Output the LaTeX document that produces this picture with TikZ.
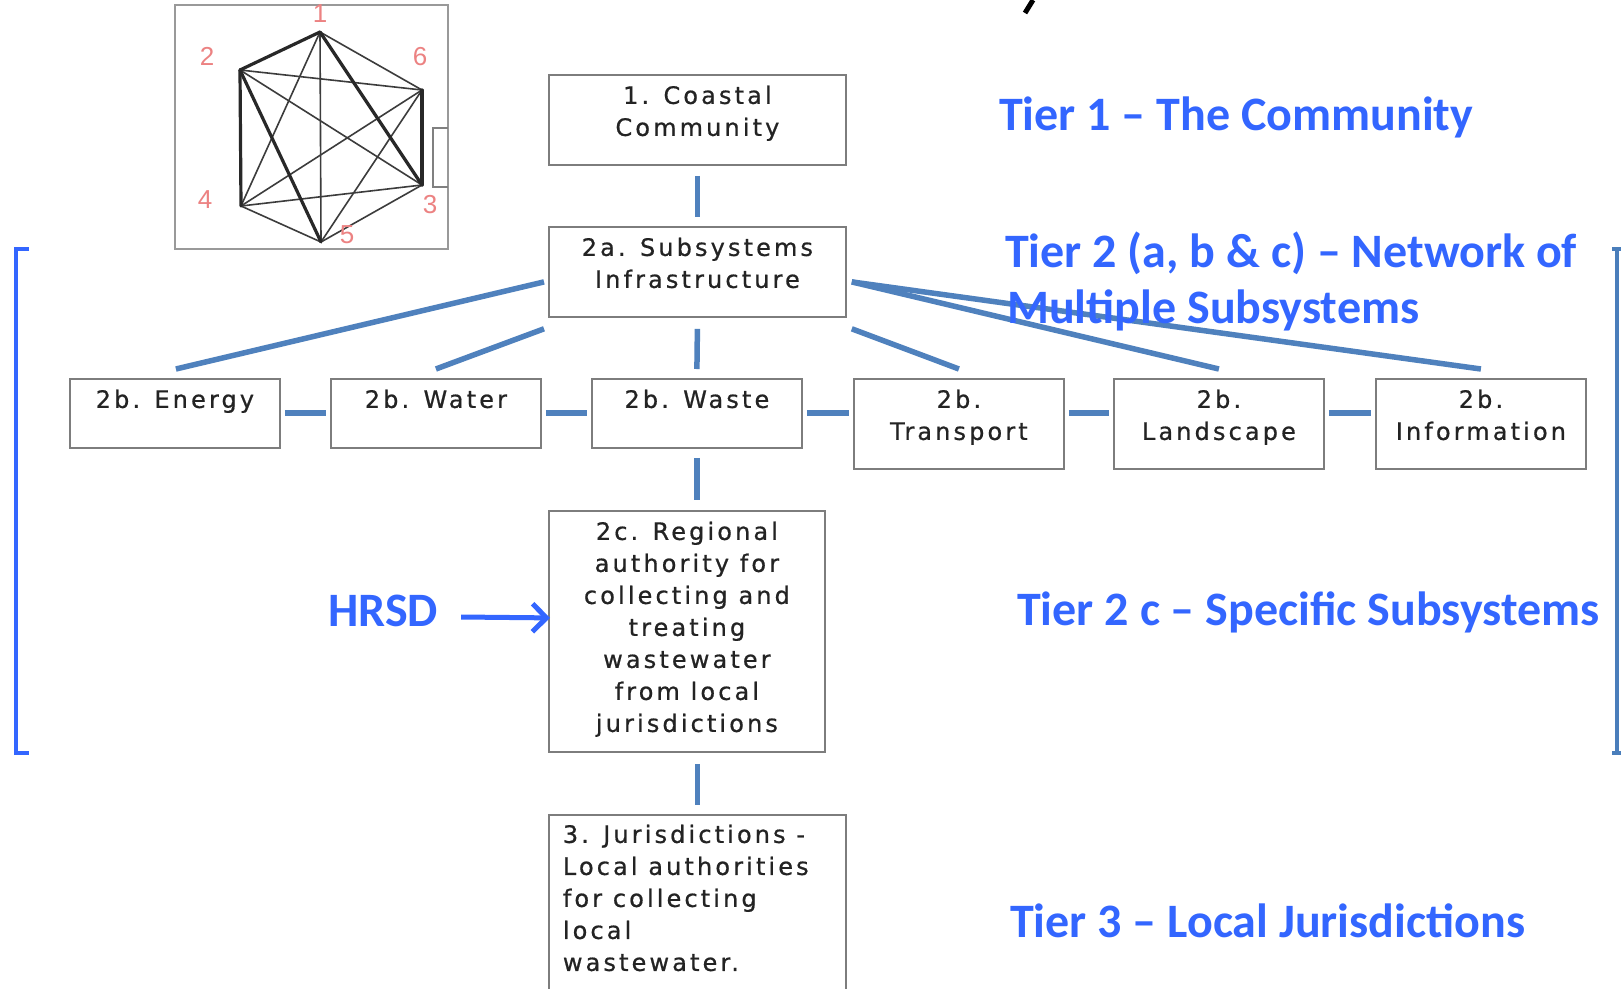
\documentclass[tikz,border=0pt]{standalone}
\usepackage{fontspec}
\setmainfont{DejaVu Sans}
\newfontfamily\boxfont{DejaVu Sans}[LetterSpace=13, FakeBold=0.7]
\newfontfamily\tierfont{Carlito}
\newfontfamily\numfont{Liberation Sans}
\usetikzlibrary{arrows.meta,calc}
\definecolor{tierblue}{RGB}{51,102,255}
\definecolor{connblue}{RGB}{79,129,189}
\definecolor{rbrblue}{RGB}{74,126,187}
\definecolor{boxgray}{RGB}{125,125,125}
\definecolor{boxtext}{RGB}{35,35,35}
\definecolor{numpink}{RGB}{236,130,130}
\definecolor{edgedark}{RGB}{40,40,40}
\definecolor{edgethin}{RGB}{60,60,60}
\newcommand{\bt}[3]{\parbox[c][#2pt][t]{#1pt}{\centering\rule{0pt}{29pt}#3}}
\newcommand{\btl}[3]{\parbox[c][#2pt][t]{#1pt}{\raggedright\leftskip=14pt\rule{0pt}{28pt}#3}}
\tikzset{
  bx/.style={draw=boxgray, line width=1.8pt, inner sep=0pt, anchor=north west, text=boxtext,
             font=\boxfont\fontsize{24}{32}\selectfont},
  conn/.style={draw=connblue, line width=5.5pt},
  tier/.style={text=tierblue, inner sep=0pt, anchor=base west, font=\tierfont\bfseries\fontsize{48}{56}\selectfont},
  harrow/.style={draw=tierblue, line width=5pt, -{Straight Barb[length=14pt,width=28pt,line width=5pt]}},
  lbr/.style={draw=tierblue, line width=4pt},
  rbr/.style={draw=rbrblue, line width=4pt},
  gthick/.style={draw=edgedark, line width=3.2pt},
  gthin/.style={draw=edgethin, line width=1.6pt},
  gnum/.style={text=numpink, inner sep=0pt, font=\numfont\fontsize{26}{26}\selectfont},
}
\begin{document}
\begin{tikzpicture}[x=1pt,y=-1pt]
\useasboundingbox (0,0) rectangle (1621,988);
\clip (0,0) rectangle (1621,988);
\fill[white] (0,0) rectangle (1621,988);

% inset graph
\draw[draw=black!40, line width=1.8pt] (175,5) rectangle (448,249);
\draw[draw=black!50, line width=1.5pt] (448,128) -- (433,128) -- (433,187) -- (448,187);
\coordinate (v1) at (320,32);
\coordinate (v2) at (240,70);
\coordinate (v6) at (422,90);
\coordinate (v3) at (422,185);
\coordinate (v4) at (241,206);
\coordinate (v5) at (321,242);
\foreach \a/\b in {1/4,1/5,1/6,2/3,2/6,3/4,3/5,4/5,4/6,5/6}{\draw[gthin] (v\a) -- (v\b);}
\foreach \a/\b in {1/2,1/3,2/4,2/5,6/3}{\draw[gthick, line cap=round] (v\a) -- (v\b);}
\node[gnum] (n1) at (320,14) {1};
\node[gnum] (n2) at (207,56) {2};
\node[gnum] (n6) at (420,57) {6};
\node[gnum] (n4) at (205,200) {4};
\node[gnum] (n3) at (430,205) {3};
\node[gnum] (n5) at (347,235) {5};

% title fragment
\draw[line width=5pt, black] (1033,0) -- (1025,13);

% boxes
\node[bx] (c1) at (548,74) {\bt{297}{90}{1. Coastal\\Community}};
\node[bx] (s2a) at (548,226) {\bt{297}{90}{2a. Subsystems\\Infrastructure}};
\node[bx] (en) at (69,378) {\bt{210}{69}{2b. Energy}};
\node[bx] (wa) at (330,378) {\bt{210}{69}{2b. Water}};
\node[bx] (ws) at (591,378) {\bt{210}{69}{2b. Waste}};
\node[bx] (tr) at (853,378) {\bt{210}{90}{2b.\\Transport}};
\node[bx] (la) at (1113,378) {\bt{210}{90}{2b.\\Landscape}};
\node[bx] (inf) at (1375,378) {\bt{210}{90}{2b.\\Information}};
\node[bx] (r2c) at (548,510) {\bt{276}{241}{2c. Regional\\authority for\\collecting and\\treating\\wastewater\\from local\\jurisdictions}};
\node[bx] (j3) at (548,814) {\btl{297}{200}{3. Jurisdictions -\\Local authorities\\for collecting\\local\\wastewater.}};

% connectors
\draw[conn] ($(c1.south)+(0,10)$) -- ($(s2a.north)+(0,-9)$);
\draw[conn] ($(s2a.west)+(-4,10)$) -- ($(en.north)+(1,-9)$);
\draw[conn] ($(s2a.south west)+(-4,11)$) -- ($(wa.north)+(0,-9)$);
\draw[conn] ($(s2a.south)+(0,11)$) -- ($(ws.north)+(0,-9)$);
\draw[conn] ($(s2a.south east)+(5,11)$) -- ($(tr.north)+(0,-9)$);
\draw[conn] ($(s2a.east)+(5,10)$) -- ($(la.north)+(0,-9)$);
\draw[conn] ($(s2a.east)+(5,10)$) -- ($(inf.north)+(0,-9)$);
\draw[conn] ($(en.north east)+(4,35)$) -- ($(wa.north west)+(-4,35)$);
\draw[conn] ($(wa.north east)+(4,35)$) -- ($(ws.north west)+(-4,35)$);
\draw[conn] ($(ws.north east)+(4,35)$) -- ($(tr.north west)+(-4,35)$);
\draw[conn] ($(tr.north east)+(4,35)$) -- ($(la.north west)+(-4,35)$);
\draw[conn] ($(la.north east)+(4,35)$) -- ($(inf.north west)+(-4,35)$);
\draw[conn] ($(ws.south)+(0,9)$) -- ($(ws.south |- r2c.north)+(0,-10)$);
\draw[conn] ($(j3.north |- r2c.south)+(0,11)$) -- ($(j3.north)+(0,-9)$);

% labels
\node[tier] (t1) at (999,130) {Tier 1 – The Community};
\node[tier] (t2a) at (1005,267) {Tier 2 (a, b \& c) – Network of};
\node[tier] (t2b) at (1007,323) {Multiple Subsystems};
\node[tier] (t2c) at (1017,625) {Tier 2 c – Specific Subsystems};
\node[tier] (t3) at (1010,937) {Tier 3 – Local Jurisdictions};
\node[tier] (hrsd) at (328,626) {HRSD};
\draw[harrow] ($(hrsd.base east)+(23,-9)$) -- ($(r2c.west)+(2,-13.5)$);

% brackets
\draw[lbr] (29,249) -- (15.5,249) -- (15.5,753) -- (29,753);
\draw[rbr] (1612,249) -- (1621,249);
\draw[rbr] (1617,249) -- (1617,753);
\draw[rbr] (1612,753) -- (1621,753);
\end{tikzpicture}
\end{document}
